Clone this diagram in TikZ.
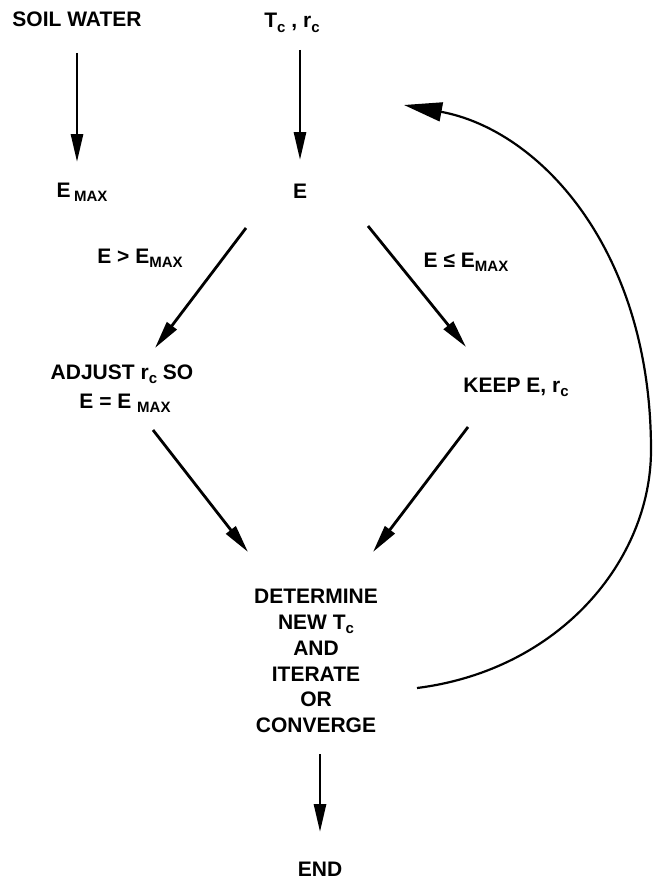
\documentclass[tikz,border=0pt]{standalone}
\usepackage{fontspec}
\setmainfont{Liberation Sans}
\usetikzlibrary{arrows.meta}
% lowered, smaller subscript text (c, MAX)
\newcommand\lowsub[1]{\raisebox{-4.5pt}{\fontsize{15}{15}\selectfont #1}}

\begin{document}
\begin{tikzpicture}[x=1pt,y=-1pt,
  lbl/.style={font=\fontsize{21}{25.8}\selectfont\bfseries, inner sep=0pt, anchor=base},
  flow/.style={line width=2.8pt, -{Triangle[length=28pt,width=12pt]}},
  loop/.style={line width=2.2pt, -{Triangle[length=38pt,width=19pt]}}]
\useasboundingbox (0,0) rectangle (653,880);

% labels
\node[lbl] (soil) at (77,27)  {SOIL WATER};
\node[lbl] (tc)   at (292,28) {T\lowsub{c} , r\lowsub{c}};
\node[lbl] (emax) at (82,197) {E\,\lowsub{MAX}};
\node[lbl] (e)    at (300,198) {E};
\node[lbl] (gt)   at (140,263) {E > E\lowsub{MAX}};
\node[lbl] (le)   at (466,267) {E ≤ E\lowsub{MAX}};
\node[lbl] (adj)  at (122,379) {ADJUST r\lowsub{c} SO};
\node[lbl] (adjb) at (125,408) {E = E \lowsub{MAX}};
\node[lbl] (keep) at (516,392) {KEEP E, r\lowsub{c}};
\node[lbl, anchor=north, align=center] (det) at (316,589)
  {DETERMINE\\NEW T\lowsub{c}\\AND\\ITERATE\\OR\\CONVERGE};
\node[lbl] (fin)  at (320,876) {END};

% connector ports
\coordinate (e-l)    at (246,228);
\coordinate (e-r)    at (368,226);
\coordinate (adj-in) at (155,348);
\coordinate (keep-in) at (466,347);
\coordinate (adj-out) at (153,430);
\coordinate (keep-out) at (468,427);
\coordinate (det-l)  at (248,552);
\coordinate (det-r)  at (373,552);
\coordinate (det-e)  at (417,688);
\coordinate (rim)    at (651,450);
\coordinate (back)   at (404,105);

% vertical flows
\draw[flow, shorten <=26pt, shorten >=35pt] (soil.base) -- (soil.base |- emax.base);
\draw[flow, shorten <=22pt, shorten >=38pt] (e.base |- tc.base) -- (e.base);
\draw[flow, shorten <=21pt, shorten >=44pt] (fin.base |- det.south) -- (fin.base);

% branches
\draw[flow] (e-l) -- (adj-in);
\draw[flow] (e-r) -- (keep-in);
\draw[flow] (adj-out) -- (det-l);
\draw[flow] (keep-out) -- (det-r);

% iteration loop
\draw[loop] (det-e) .. controls (560,670) and (651,560) .. (rim)
  .. controls (651,250) and (540,130) .. (back);
\end{tikzpicture}
\end{document}
